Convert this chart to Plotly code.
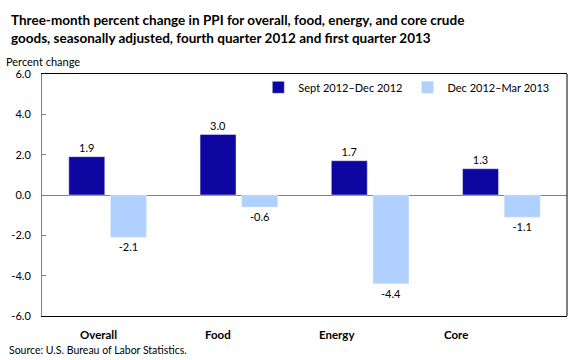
import plotly.graph_objects as go

categories = ["Overall", "Food", "Energy", "Core"]
series1_name = "Sept 2012\u2013Dec 2012"
series2_name = "Dec 2012\u2013Mar 2013"
series1 = [1.9, 3.0, 1.7, 1.3]
series2 = [-2.1, -0.6, -4.4, -1.1]
y_ticks = [-6.0, -4.0, -2.0, 0.0, 2.0, 4.0, 6.0]

FONT = "Lato, 'Open Sans', sans-serif"
DARK = "#0E06A0"
LIGHT = "#B0D1FF"

fig = go.Figure()
fig.add_trace(go.Bar(
    x=categories, y=series1, name=series1_name, marker_color=DARK,
    text=[f"{v:.1f}" for v in series1], textposition="outside",
    textfont=dict(size=11, color="#000000", family=FONT), cliponaxis=False,
))
fig.add_trace(go.Bar(
    x=categories, y=series2, name=series2_name, marker_color=LIGHT,
    text=[f"{v:.1f}" for v in series2], textposition="outside",
    textfont=dict(size=11, color="#000000", family=FONT), cliponaxis=False,
))

annotations = [
    dict(text="<b>Three-month percent change in PPI for overall, food, energy, and core crude<br>goods, seasonally adjusted, fourth quarter 2012 and first quarter 2013</b>",
         xref="paper", yref="paper", x=-0.062, y=1.0, xanchor="left", yanchor="bottom",
         yshift=26, align="left", showarrow=False,
         font=dict(size=13.5, color="#000000", family=FONT)),
    dict(text="Percent change", xref="paper", yref="paper", x=-0.072, y=1.0,
         xanchor="left", yanchor="bottom", yshift=4, showarrow=False,
         font=dict(size=11, color="#000000", family=FONT)),
    dict(text="Source: U.S. Bureau of Labor Statistics.", xref="paper", yref="paper",
         x=-0.066, y=0, xanchor="left", yanchor="top", yshift=-26, showarrow=False,
         font=dict(size=10.5, color="#000000", family=FONT)),
]
for i, c in enumerate(categories):
    annotations.append(dict(text=f"<b>{c}</b>", xref="x", yref="paper",
                            x=i * 0.908 - 0.066, y=0, yanchor="top", yshift=-10,
                            showarrow=False,
                            font=dict(size=11.5, color="#000000", family=FONT)))

fig.update_layout(
    width=580, height=360,
    margin=dict(l=41.5, r=13, t=74, b=44),
    paper_bgcolor="white", plot_bgcolor="white",
    barmode="group", bargap=0.365, bargroupgap=0.137,
    font=dict(family=FONT, size=11, color="#000000"),
    showlegend=True,
    legend=dict(orientation="h", x=0.412, y=0.945, xanchor="left", yanchor="middle",
                bgcolor="rgba(0,0,0,0)", font=dict(size=11, family=FONT),
                itemwidth=30, traceorder="normal"),
    annotations=annotations,
    shapes=[dict(type="line", xref="paper", yref="paper", x0=1, x1=1, y0=0, y1=1,
                 line=dict(color="#000000", width=1))],
)
fig.update_xaxes(showticklabels=False, showline=True, linecolor="#000000",
                 linewidth=1, mirror=True, ticks="", showgrid=False)
fig.update_yaxes(range=[-6, 6], tickvals=y_ticks,
                 ticktext=[f"{v:.1f}" for v in y_ticks],
                 showline=True, linecolor="#808080", linewidth=1,
                 ticks="inside", ticklen=4, tickcolor="#808080",
                 showgrid=False, zeroline=True, zerolinecolor="#808080",
                 zerolinewidth=1, ticklabelstandoff=8,
                 tickfont=dict(size=11, family=FONT, color="#000000"))

fig.write_html("out.html", config={"displayModeBar": False},
               post_script="document.body.style.margin='0';document.body.style.padding='0';")
